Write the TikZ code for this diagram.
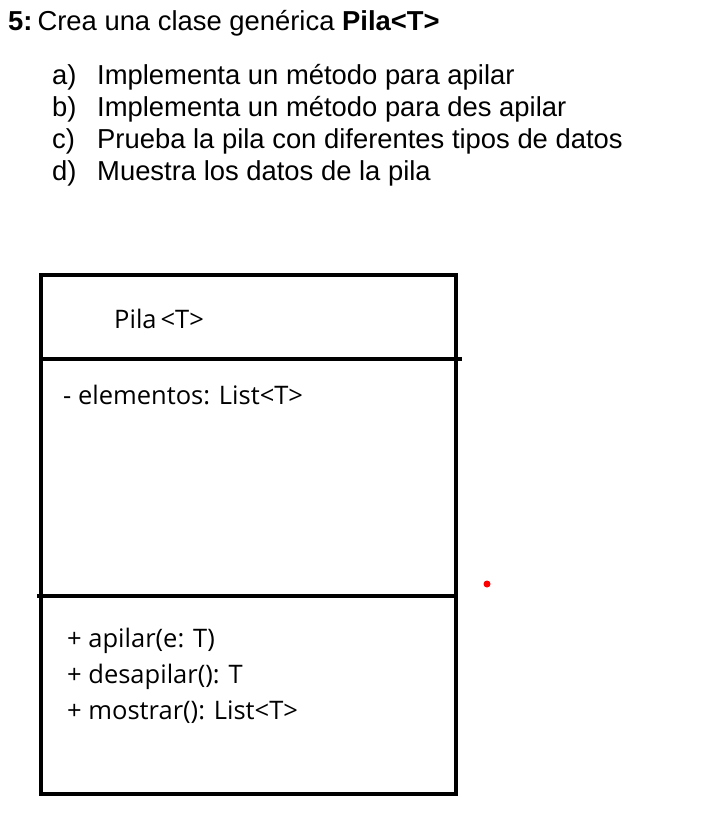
\documentclass[tikz,border=0pt]{standalone}
\usepackage{fontspec}
\setmainfont{Liberation Sans}
\newfontfamily\umlfont{Open Sans}
\begin{document}
\begin{tikzpicture}[x=1pt,y=-1pt,
  txt/.style={anchor=base west,inner sep=0pt,font=\fontsize{27.4}{32}\selectfont},
  uml/.style={anchor=base west,inner sep=0pt,font=\umlfont\fontsize{25.5}{30}\selectfont},
  boxline/.style={line width=4pt,black}]
\useasboundingbox (0,0) rectangle (720,825);
% heading
\node[txt] (title) at (8,30) {\textbf{5:}\kern5pt Crea una clase genérica \textbf{Pila<T>}};
\node[txt] (la) at (52,84) {a)};
\node[txt] (ta) at (97,84) {Implementa un método para apilar};
\node[txt] (lb) at (52,116) {b)};
\node[txt] (tb) at (97,116) {Implementa un método para des apilar};
\node[txt] (lc) at (52,148) {c)};
\node[txt] (tc) at (97,148) {Prueba la pila con diferentes tipos de datos};
\node[txt] (ld) at (52,180) {d)};
\node[txt] (td) at (97,180) {Muestra los datos de la pila};
% class box
\coordinate (tl) at (41,274.5);
\coordinate (br) at (456,794);
\draw[boxline] (tl) rectangle (br);
\coordinate (d1a) at (41,358.5);
\coordinate (d1b) at (462,358.5);
\coordinate (d2a) at (37,596);
\coordinate (d2b) at (456,596);
\draw[boxline] (d1a) -- (d1b);
\draw[boxline] (d2a) -- (d2b);
\node[uml] (cname) at (114,328) {Pila\kern4pt<T>};
\node[uml] (attr) at (63,404) {- elementos: List<T>};
\node[uml] (m1) at (67,647) {+ apilar(e: T)};
\node[uml] (m2) at (67,683) {+ desapilar(): T};
\node[uml] (m3) at (67,719) {+ mostrar(): List<T>};
% red dot
\fill[red] (487,584) circle (3.5);
\end{tikzpicture}
\end{document}
